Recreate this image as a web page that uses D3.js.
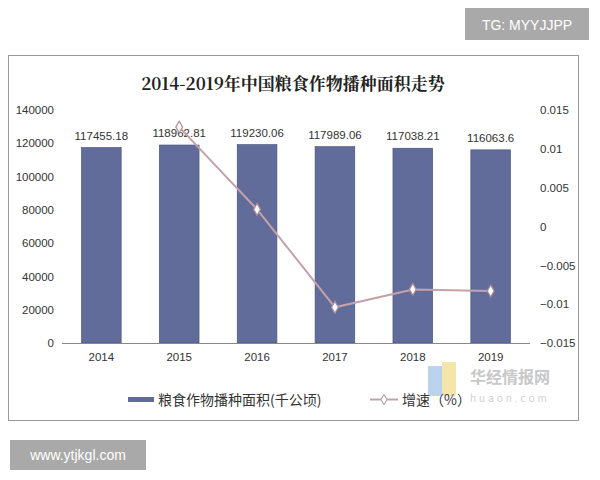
<!DOCTYPE html>
<html><head><meta charset="utf-8">
<script src="https://cdn.jsdelivr.net/npm/d3@7"></script>
<style>body{margin:0;background:#fff;font-family:"Noto Sans CJK SC","Noto Sans",sans-serif}</style>
</head><body>
<svg id="c" width="600" height="480"></svg>
<script>
// data
var years = ["2014", "2015", "2016", "2017", "2018", "2019"];
var areas = [117455.18, 118962.81, 119230.06, 117989.06, 117038.21, 116063.6];
var areaLabels = ["117455.18", "118962.81", "119230.06", "117989.06", "117038.21", "116063.6"];
var growthYears = ["2015", "2016", "2017", "2018", "2019"];
var growth = [0.0128, 0.0022, -0.0104, -0.0081, -0.0083];
var leftTicks = [0, 20000, 40000, 60000, 80000, 100000, 120000, 140000];
var rightTicks = [-0.015, -0.01, -0.005, 0, 0.005, 0.01, 0.015];

var svg = d3.select("#c");
var m = {left: 62, right: 530, top: 110, bottom: 343};

// frame
svg.append("rect").attr("x", 8.5).attr("y", 55.5).attr("width", 570).attr("height", 365)
	.attr("fill", "#fff").attr("stroke", "#999");

svg.append("text").attr("x", 293).attr("y", 90).attr("text-anchor", "middle")
	.attr("font-family", "'Noto Serif CJK SC','Noto Sans CJK SC',serif").attr("font-weight", "bold")
	.attr("font-size", 17).attr("fill", "#222").text("2014-2019年中国粮食作物播种面积走势");

var x = d3.scaleBand().domain(years).range([m.left, m.right]).paddingInner(0.49).paddingOuter(0.25);
var yl = d3.scaleLinear().domain([0, 140000]).range([m.bottom, m.top]);
var yr = d3.scaleLinear().domain([-0.015, 0.015]).range([m.bottom, m.top]);

svg.append("g").attr("transform", "translate(" + m.left + ",0)")
	.call(d3.axisLeft(yl).tickValues(leftTicks).tickFormat(d3.format("d")).tickSize(0).tickPadding(8))
	.call(function(g) { g.select(".domain").remove(); g.selectAll("text").attr("font-size", 11.5).attr("fill", "#333").attr("font-family", "Liberation Sans,Arial"); });
svg.append("g").attr("transform", "translate(" + m.right + ",0)")
	.call(d3.axisRight(yr).tickValues(rightTicks).tickFormat(function(d) { return d3.format("")(+d.toFixed(3)); }).tickSize(0).tickPadding(10))
	.call(function(g) { g.select(".domain").remove(); g.selectAll("text").attr("font-size", 11.5).attr("fill", "#333").attr("font-family", "Liberation Sans,Arial"); });

svg.selectAll("rect.bar").data(areas).enter().append("rect").attr("class", "bar")
	.attr("x", function(d, i) { return x(years[i]); })
	.attr("width", x.bandwidth())
	.attr("y", function(d) { return yl(d); })
	.attr("height", function(d) { return m.bottom - yl(d); })
	.attr("fill", "#626c9a").attr("stroke", "#454f78").attr("stroke-width", 0.6);

svg.selectAll("text.lab").data(areaLabels).enter().append("text").attr("class", "lab")
	.attr("x", function(d, i) { return x(years[i]) + x.bandwidth() / 2; })
	.attr("y", function(d, i) { return yl(areas[i]) - 8; })
	.attr("text-anchor", "middle").attr("font-size", 11.5).attr("fill", "#333")
	.attr("font-family", "Liberation Sans,Arial").text(function(d) { return d; });

svg.append("line").attr("x1", m.left).attr("x2", m.right).attr("y1", m.bottom + 0.5).attr("y2", m.bottom + 0.5)
	.attr("stroke", "#888");
svg.append("g").attr("transform", "translate(0," + m.bottom + ")")
	.call(d3.axisBottom(x).tickSize(0).tickPadding(10))
	.call(function(g) { g.select(".domain").remove(); g.selectAll("text").attr("font-size", 11.5).attr("fill", "#333").attr("font-family", "Liberation Sans,Arial"); });

var cx = function(d, i) { return x(growthYears[i]) + x.bandwidth() / 2; };
svg.append("path").datum(growth)
	.attr("d", d3.line().x(cx).y(function(d) { return yr(d); }))
	.attr("fill", "none").attr("stroke", "#c4a2aa").attr("stroke-width", 2);
svg.selectAll("path.pt").data(growth).enter().append("path").attr("class", "pt")
	.attr("d", d3.symbol(d3.symbolDiamond, 40))
	.attr("transform", function(d, i) { return "translate(" + cx(d, i) + "," + yr(d) + ")"; })
	.attr("fill", "#fff").attr("stroke", "#b48c96").attr("stroke-width", 1.2);

// watermark logo (behind legend)
svg.append("rect").attr("x", 428).attr("y", 366).attr("width", 14).attr("height", 30).attr("fill", "#bcd3ee");
svg.append("rect").attr("x", 442).attr("y", 362).attr("width", 14).attr("height", 34).attr("fill", "#f3e6a8");
svg.append("text").attr("x", 470).attr("y", 383).attr("font-size", 16).attr("font-weight", "bold").attr("fill", "#c8c8c8").text("华经情报网");
svg.append("text").attr("x", 470).attr("y", 402).attr("font-size", 10).attr("letter-spacing", 3).attr("fill", "#d0d0d0").text("huaon.com");

// legend
var lg = svg.append("g").attr("font-size", 14).attr("fill", "#333");
lg.append("rect").attr("x", 128).attr("y", 397).attr("width", 26).attr("height", 5).attr("fill", "#626c9a");
lg.append("text").attr("x", 158).attr("y", 405).text("粮食作物播种面积(千公顷)");
lg.append("line").attr("x1", 370).attr("x2", 398).attr("y1", 399.5).attr("y2", 399.5).attr("stroke", "#c4a2aa").attr("stroke-width", 2);
lg.append("path").attr("d", d3.symbol(d3.symbolDiamond, 30)).attr("transform", "translate(384,399.5)")
	.attr("fill", "#fff").attr("stroke", "#b48c96");
lg.append("text").attr("x", 402).attr("y", 405).text("增速（%）");

svg.append("rect").attr("x", 465).attr("y", 8).attr("width", 124).attr("height", 32).attr("fill", "#a9a9a9");
svg.append("text").attr("x", 527).attr("y", 30).attr("text-anchor", "middle").attr("font-size", 14).attr("fill", "#fff").attr("font-family", "Liberation Sans,Arial").text("TG: MYYJJPP");
svg.append("rect").attr("x", 10).attr("y", 440).attr("width", 136).attr("height", 30).attr("fill", "#a9a9a9");
svg.append("text").attr("x", 78).attr("y", 460).attr("text-anchor", "middle").attr("font-size", 14).attr("fill", "#fff").attr("font-family", "Liberation Sans,Arial").text("www.ytjkgl.com");
</script>
</body></html>
